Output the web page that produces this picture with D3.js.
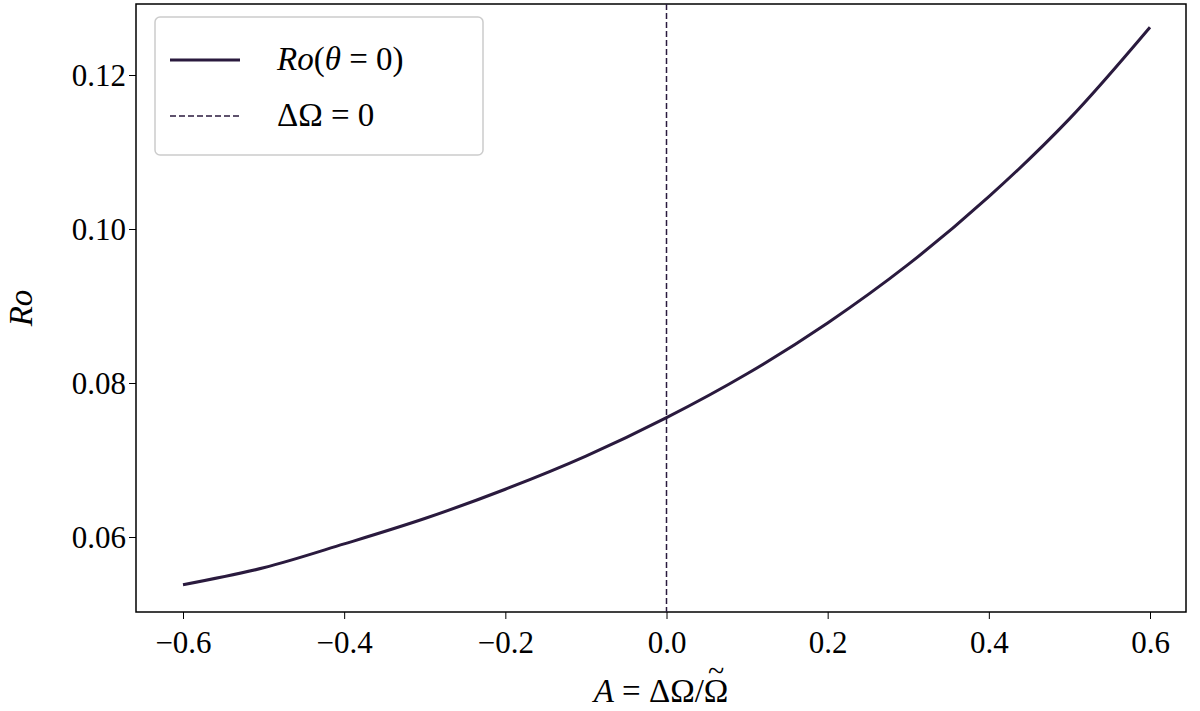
<!DOCTYPE html><html><head><meta charset="utf-8">
<script src="https://cdn.jsdelivr.net/npm/d3@7/dist/d3.min.js"></script>
<style>body{margin:0;background:#fff}text{font-family:"Liberation Serif",serif}</style></head><body>
<svg id="c" width="1200" height="711"></svg>
<script>
const xs=[-0.6,-0.5,-0.4,-0.3,-0.2,-0.1,0,0.1,0.2,0.3,0.4,0.5,0.6];
const ro=[0.0538,0.0560,0.0591,0.0624,0.0662,0.0705,0.0755,0.0812,0.0878,0.0954,0.1042,0.1143,0.1262];
const xTicks=[-0.6,-0.4,-0.2,0,0.2,0.4,0.6];
const yTicks=[0.06,0.08,0.10,0.12];
const color="#2a1a3e";
const svg=d3.select("#c");
const L=136,R=1186,T=4,B=612;
const x=d3.scaleLinear().domain([-0.6,0.6]).range([183,1150]);
const y=d3.scaleLinear().domain([0.06,0.12]).range([537,75]);
svg.append("g").attr("transform",`translate(0,${B})`).call(d3.axisBottom(x).tickValues(xTicks).tickSize(7).tickFormat(v=>(v<0?"\u2212":"")+Math.abs(v).toFixed(1)))
 .call(g=>{g.select(".domain").remove();g.selectAll("text").attr("font-size",31).attr("dy","1.0em").attr("font-family","Liberation Serif");});
svg.append("g").attr("transform",`translate(${L},0)`).call(d3.axisLeft(y).tickValues(yTicks).tickSize(7).tickFormat(v=>v.toFixed(2)))
 .call(g=>{g.select(".domain").remove();g.selectAll("text").attr("font-size",31).attr("dy","0.35em").attr("font-family","Liberation Serif");});
svg.append("rect").attr("x",L).attr("y",T).attr("width",R-L).attr("height",B-T).attr("fill","none").attr("stroke","#000").attr("stroke-width",1.5);
svg.append("line").attr("x1",x(0)).attr("x2",x(0)).attr("y1",T).attr("y2",B).attr("stroke",color).attr("stroke-width",1.5).attr("stroke-dasharray","6,3");
svg.append("path").datum(xs.map((d,i)=>[d,ro[i]])).attr("fill","none").attr("stroke",color).attr("stroke-width",3)
 .attr("d",d3.line().x(d=>x(d[0])).y(d=>y(d[1])).curve(d3.curveCatmullRom));
const lg=svg.append("g");
lg.append("rect").attr("x",155).attr("y",17).attr("width",328).attr("height",138).attr("rx",5).attr("fill","#fff").attr("stroke","#ccc").attr("stroke-width",1.5);
lg.append("line").attr("x1",170).attr("x2",240).attr("y1",60).attr("y2",60).attr("stroke",color).attr("stroke-width",3);
lg.append("line").attr("x1",170).attr("x2",240).attr("y1",116).attr("y2",116).attr("stroke",color).attr("stroke-width",1.5).attr("stroke-dasharray","6,3");
lg.append("text").attr("x",277).attr("y",70).attr("font-size",33).html('<tspan font-style="italic">Ro</tspan>(<tspan font-style="italic">θ</tspan> = 0)');
lg.append("text").attr("x",277).attr("y",126).attr("font-size",33).text("ΔΩ = 0");
const xl=svg.append("text").attr("x",661).attr("y",702).attr("text-anchor","middle").attr("font-size",33).html('<tspan font-style="italic">A</tspan> = ΔΩ/<tspan id="om">Ω</tspan>');
const bb=document.getElementById("om").getBBox();
svg.append("text").attr("x",bb.x+bb.width/2).attr("y",bb.y+8).attr("text-anchor","middle").attr("font-size",30).text("~");
svg.append("text").attr("transform","translate(32,308) rotate(-90)").attr("text-anchor","middle").attr("font-size",33).attr("font-style","italic").text("Ro");
</script></body></html>
